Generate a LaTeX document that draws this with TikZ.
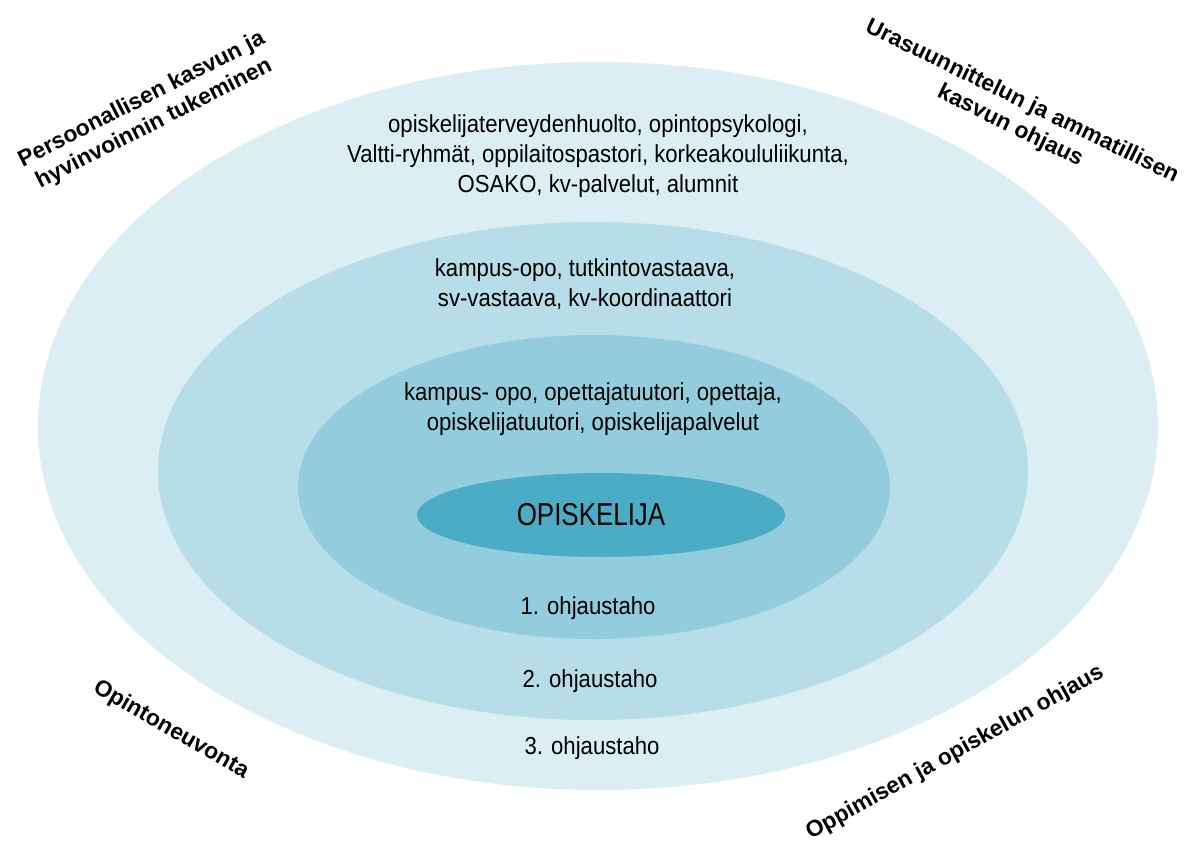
\documentclass[tikz,border=0pt]{standalone}
\usepackage{fontspec}
\setmainfont{Liberation Sans}
\newfontfamily\narrowfont[FakeStretch=0.9]{Liberation Sans}
\newfontfamily\centerfont[FakeStretch=0.82]{Liberation Sans}

\definecolor{ringA}{HTML}{DBEEF4}
\definecolor{ringB}{HTML}{B7DEE8}
\definecolor{ringC}{HTML}{93CDDD}
\definecolor{ringD}{HTML}{4BACC6}

\tikzset{
  ringtext/.style={align=center, inner sep=0pt, font=\narrowfont\fontsize{14}{17}\selectfont},
  leveltext/.style={inner sep=0pt, font=\narrowfont\fontsize{14}{17}\selectfont},
  cornertext/.style={align=center, inner sep=0pt, font=\bfseries\fontsize{13}{15.5}\selectfont}
}

\begin{document}
\begin{tikzpicture}[x=0.02cm, y=-0.02cm]
  \useasboundingbox (0,0) rectangle (1191,846);

  % rings, outside in
  \fill[ringA] (598,426) ellipse [x radius=560, y radius=364];
  \fill[ringB] (593,471) ellipse [x radius=435, y radius=249];
  \fill[ringC] (594,487) ellipse [x radius=296, y radius=152];
  \fill[ringD] (601,515) ellipse [x radius=184, y radius=42];

  % who guides, per ring
  \node[ringtext] (tier3) at (598,156) {opiskelijaterveydenhuolto, opintopsykologi,\\
    Valtti-ryhmät, oppilaitospastori, korkeakoululiikunta,\\ OSAKO, kv-palvelut, alumnit};
  \node[ringtext] (tier2) at (585,284) {kampus-opo, tutkintovastaava,\\ sv-vastaava, kv-koordinaattori};
  \node[ringtext] (tier1) at (593,409) {kampus- opo, opettajatuutori, opettaja,\\ opiskelijatuutori, opiskelijapalvelut};
  \node[inner sep=0pt, font=\centerfont\fontsize{18}{22}\selectfont] (student) at (591,515) {OPISKELIJA};

  \node[leveltext] (level1) at (588,608) {1. ohjaustaho};
  \node[leveltext] (level2) at (590,681) {2. ohjaustaho};
  \node[leveltext] (level3) at (592,748) {3. ohjaustaho};

  % corner themes
  \node[cornertext, rotate=27] (personal) at (148,112) {Persoonallisen kasvun ja\\ hyvinvoinnin tukeminen};
  \node[cornertext, rotate=-26] (career) at (1016,114) {Urasuunnittelun ja ammatillisen\\ kasvun ohjaus};
  \node[cornertext, rotate=-30] (advice) at (171,730) {Opintoneuvonta};
  \node[cornertext, rotate=29] (learning) at (955,753) {Oppimisen ja opiskelun ohjaus};
\end{tikzpicture}
\end{document}
